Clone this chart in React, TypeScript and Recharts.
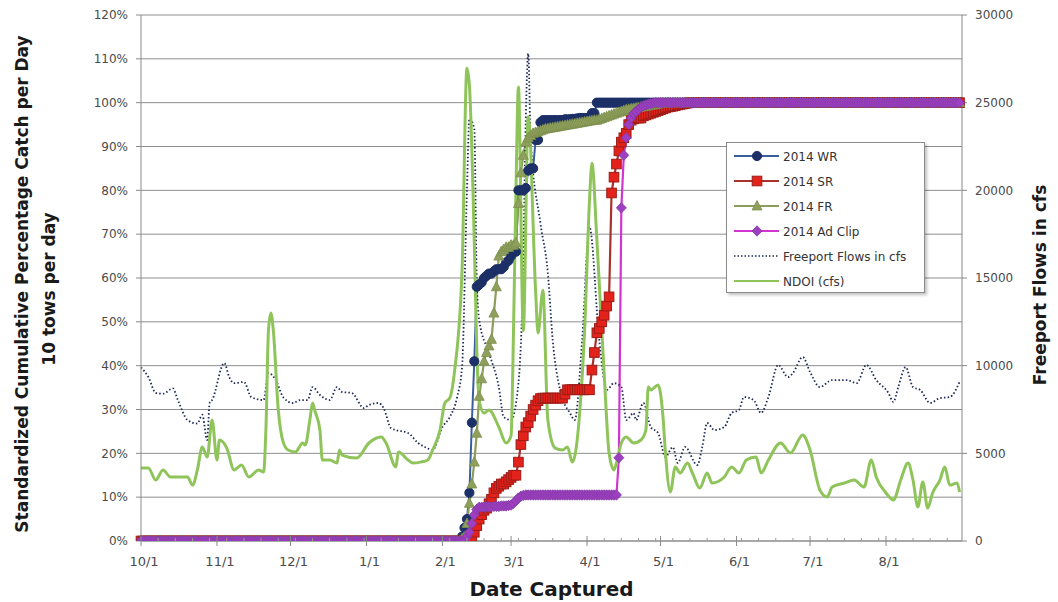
import { LineChart, Line, XAxis, YAxis, CartesianGrid, Legend, Label } from "recharts";

// x = days since 10/1/2013
const lastDay = 334;
const monthTicks = [0, 31, 61, 92, 123, 151, 182, 212, 243, 273, 304];
const monthLabels = ["10/1", "11/1", "12/1", "1/1", "2/1", "3/1", "4/1", "5/1", "6/1", "7/1", "8/1"];
const weekTicks = Array.from({ length: 48 }, (_, i) => i * 7);
const allTicks = Array.from(new Set([...monthTicks, ...weekTicks])).sort((a, b) => a - b);
const pctTicks = [0, 0.1, 0.2, 0.3, 0.4, 0.5, 0.6, 0.7, 0.8, 0.9, 1.0, 1.1, 1.2];
const cfsTicks = [0, 5000, 10000, 15000, 20000, 25000, 30000];

// cumulative % catch: 0 before the ramp start, 100 after the ramp ends
const wrStart = 131;
const wrRamp = [
  1, 3, 5, 11, 27, 41, 58, 58.5, 59, 60, 60.5, 61, 61, 61.5, 62, 62, 62, 62.5, 63.5, 64,
  65, 66, 66, 80, 80, 80, 80.5, 84.5, 85, 85, 91.5, 91.5, 95.5,
  96, 96, 96, 96, 96, 96, 96, 96, 96, 96.2, 96.2, 96.2, 96.3, 96.3, 96.4,
  96.5, 96.5, 96.5, 96.5, 96.5, 97.6, 97.6,
];
const srStart = 134;
const srRamp = [
  0.5, 1, 2, 3.5, 5, 6, 7, 7.5, 8.5, 9.5, 11, 12, 12.5, 13, 13, 13.5, 14, 14.5, 15, 15,
  18, 22, 24, 26, 27, 28.5, 30, 31, 32, 32.5,
  32.6, 32.6, 32.6, 32.6, 32.6, 32.6, 32.6, 32.6, 32.6, 33.5,
  34.5, 34.5, 34.5, 34.5, 34.5, 34.5, 34.5, 34.5, 34.5, 34.5,
  39, 43, 47.5, 48.5, 50, 51.5, 53.6, 55.7, 79.4, 83, 86, 89, 91, 92, 93, 95, 96, 96.3,
  96.5, 96.5, 96.5, 97, 97.2, 97.4, 97.6, 97.8,
  98, 98.2, 98.4, 98.6, 98.8, 99, 99.1, 99.2, 99.3, 99.5, 99.6, 99.7, 99.8, 99.9,
];
const frStart = 131;
const frRamp = [
  0.5, 1, 4, 8.6, 13, 18, 24.6, 33, 37, 41, 43, 44.5, 46, 52, 58, 65, 66, 66.5, 67, 67,
  67.5, 67.5, 68, 77, 84, 88, 91, 92, 92.5, 93, 93.2, 93.4, 93.6, 93.8, 94,
  94.1, 94.2, 94.3, 94.4, 94.5, 94.6, 94.7, 94.8, 94.9, 95, 95.1, 95.2, 95.3,
  95.4, 95.5, 95.6, 95.7, 95.8, 95.9, 96, 96,
  96.2, 96.4, 96.6, 96.8, 97, 97.2, 97.4, 97.6, 97.8, 98, 98.2, 98.4, 98.5,
  98.6, 98.7, 98.8, 98.9, 99, 99.1, 99.2, 99.3, 99.4, 99.5, 99.6, 99.7, 99.8, 99.9, 99.9,
];
const adStart = 133;
const adRamp = [
  1, 2, 4, 6, 7.2, 7.7, 7.7, 7.7, 7.8, 7.8, 7.8, 7.9, 7.9, 7.9, 8, 8, 8, 8.1, 8.2,
  8.6, 9.2, 9.8, 10.2, 10.4,
  10.5, 10.5, 10.5, 10.5, 10.5, 10.5, 10.5, 10.5, 10.5, 10.5,
  10.5, 10.5, 10.5, 10.5, 10.5, 10.5, 10.5, 10.5, 10.5, 10.5,
  10.5, 10.5, 10.5, 10.5, 10.5, 10.5, 10.5, 10.5, 10.5, 10.5,
  10.5, 10.5, 10.5, 10.5, 10.5, 10.5, 10.5, 10.5,
  19, 76, 88, 92, 95, 96.5, 97.5, 98, 98.5, 99, 99.3, 99.5, 99.7, 99.8, 99.9,
];

// Freeport flows (cfs)
const freeportDays = [
  0, 3, 6, 9, 13, 15, 19, 23, 25, 27, 28, 29, 34, 36, 38, 42, 45, 50, 52, 55, 58, 62, 65, 68,
  70, 73, 77, 80, 82, 86, 91, 93, 97, 99, 102, 104, 109, 113, 116, 119, 123, 126, 129, 131,
  133, 134, 136, 137, 138, 142, 146, 148, 151, 154, 156, 157, 158, 159, 163, 166, 168, 171,
  175, 177, 180, 183, 187, 190, 193, 196, 198, 201, 202, 205, 208, 211, 214, 217, 219, 222,
  227, 229, 231, 234, 238, 241, 244, 246, 250, 253, 256, 260, 264, 266, 270, 273, 277, 282,
  288, 292, 296, 300, 305, 307, 309, 312, 315, 318, 322, 326, 330, 334,
];
const freeportCfs = [
  9900, 9350, 8450, 8400, 8700, 8050, 6900, 6700, 7200, 5760, 7870, 8040, 10150, 9350, 9000,
  9070, 8210, 8040, 9580, 9180, 8210, 7870, 8040, 8040, 8780, 8330, 8040, 8780, 8500, 8440,
  7580, 7760, 7870, 7580, 6440, 6330, 6160, 5600, 5350, 5190, 6500, 7070, 8210, 9920,
  20000, 24100, 23500, 14900, 12600, 10720, 8780, 7070, 6900, 9000, 16000, 24000, 27800, 22900,
  18100, 15300, 11450, 8610, 7300, 6900, 11460, 17910, 11460, 8610, 9000, 8780, 6900, 7300,
  6900, 7870, 6500, 6160, 4790, 5360, 4450, 5360, 4330, 5360, 6730, 6330, 6500, 7300, 7470,
  8210, 8040, 7300, 8210, 10040, 9350, 9580, 10490, 9640, 8780, 9180, 9180, 9000, 10040,
  9180, 8440, 7930, 8780, 9920, 8780, 8610, 7870, 8150, 8210, 9070,
];

// NDOI (cfs)
const ndoiDays = [
  0, 3, 6, 9, 12, 16, 19, 21, 23, 25, 27, 29, 31, 32, 35, 38, 41, 44, 48, 50, 51, 52, 53, 54,
  56, 58, 60, 63, 66, 67, 69, 70, 71, 73, 74, 77, 80, 81, 82, 88, 93, 98, 100, 104, 105, 109,
  111, 114, 117, 119, 122, 124, 126, 128, 131, 133, 134, 136, 137, 138, 140, 142, 146, 149,
  151, 152, 153, 154, 156, 158, 161, 162, 164, 166, 169, 172, 174, 176, 179, 181, 183, 184,
  186, 189, 191, 193, 194, 196, 198, 201, 204, 206, 207, 208, 211, 213, 214, 216, 218, 220,
  223, 225, 228, 231, 233, 238, 241, 244, 247, 251, 253, 256, 261, 265, 270, 273, 277, 280,
  282, 287, 291, 295, 298, 300, 304, 307, 310, 313, 315, 317, 319, 321, 323, 326, 328, 330,
  333, 334,
];
const ndoiCfs = [
  4160, 4160, 3480, 4050, 3650, 3650, 3650, 3190, 4050, 5360, 4790, 6900, 4620, 5760, 5300,
  4050, 4330, 3650, 4050, 3935, 6500, 12000, 13000, 12000, 7500, 5650, 5190, 5080, 5590, 5475,
  7000, 7870, 7400, 6330, 4620, 4620, 4450, 5190, 4900, 4730, 5590, 5930, 5590, 4220, 5080,
  4620, 4450, 4500, 4620, 5190, 6330, 7870, 8160, 9750, 15450, 26970, 26000, 17000, 11000,
  8000, 7300, 7470, 6500, 5590, 6000, 12000, 20000, 25900, 12000, 24200, 14300, 11860, 14300,
  6900, 5300, 5190, 5360, 4500, 7300, 12000, 19400, 21550, 17220, 9520, 5020, 4050, 4450,
  5590, 5930, 5590, 5760, 6330, 8780, 8610, 8900, 7070, 5020, 2800, 4220, 3880, 4450, 3880,
  3020, 3880, 3310, 3650, 4220, 3880, 4620, 4790, 3880, 4620, 5590, 5020, 6050, 5190, 2910,
  2510, 3080, 3310, 3480, 3080, 4620, 3650, 2740, 2340, 3480, 4450, 3480, 1940, 3370, 1880,
  2740, 3480, 4220, 3190, 3310, 2800,
];

const cumulative = (start: number, ramp: number[], day: number) => {
  if (day < start) return 0;
  const i = day - start;
  return i < ramp.length ? ramp[i] / 100 : 1;
};

const freeportMap = new Map(freeportDays.map((d, i) => [d, freeportCfs[i]]));
const ndoiMap = new Map(ndoiDays.map((d, i) => [d, ndoiCfs[i]]));

const rows = Array.from({ length: lastDay + 1 }, (_, day) => ({
  day,
  wr: cumulative(wrStart, wrRamp, day),
  sr: cumulative(srStart, srRamp, day),
  fr: cumulative(frStart, frRamp, day),
  ad: cumulative(adStart, adRamp, day),
  freeport: freeportMap.has(day) ? freeportMap.get(day) : null,
  ndoi: ndoiMap.has(day) ? ndoiMap.get(day) : null,
}));

const WR_LINE = "#3A5E9C";
const WR_DOT = "#1C2F66";
const SR_LINE = "#A8322C";
const SR_DOT = "#E3221B";
const FR_LINE = "#8C9E5A";
const FR_DOT = "#8FA05C";
const AD_LINE = "#D035D0";
const AD_DOT = "#9E3EC2";
const FP_LINE = "#1E2A57";
const NDOI_LINE = "#8FC45A";

type Shape = "circle" | "square" | "triangle" | "diamond";

function marker(shape: Shape, cx: number, cy: number, key?: string) {
  if (shape === "circle")
    return <circle key={key} cx={cx} cy={cy} r={4.6} fill={WR_DOT} stroke={WR_DOT} strokeWidth={1} />;
  if (shape === "square")
    return <rect key={key} x={cx - 4.8} y={cy - 4.8} width={9.6} height={9.6} fill={SR_DOT} stroke="#9E1C17" strokeWidth={1} />;
  if (shape === "triangle")
    return <path key={key} d={`M${cx},${cy - 5.5}L${cx + 5},${cy + 4}L${cx - 5},${cy + 4}Z`} fill={FR_DOT} stroke="#7E8F4E" strokeWidth={0.8} />;
  return <path key={key} d={`M${cx},${cy - 5.2}L${cx + 5},${cy}L${cx},${cy + 5.2}L${cx - 5},${cy}Z`} fill={AD_DOT} stroke="#7F3AA0" strokeWidth={0.8} />;
}

const dotFor = (shape: Shape, id: string) => (p: any) => marker(shape, p.cx, p.cy, `${id}-${p.index}`);

const legendItems = [
  { name: "2014 WR", color: WR_LINE, shape: "circle" as Shape, dash: "" },
  { name: "2014 SR", color: SR_LINE, shape: "square" as Shape, dash: "" },
  { name: "2014 FR", color: FR_LINE, shape: "triangle" as Shape, dash: "" },
  { name: "2014 Ad Clip", color: AD_LINE, shape: "diamond" as Shape, dash: "" },
  { name: "Freeport Flows in cfs", color: FP_LINE, shape: null, dash: "1.5 2" },
  { name: "NDOI (cfs)", color: NDOI_LINE, shape: null, dash: "" },
];

const font = "'DejaVu Sans', 'Liberation Sans', sans-serif";

function LegendBox() {
  return (
    <div
      style={{
        width: 197,
        height: 149,
        border: "1px solid #8c8c8c",
        background: "#fff",
        boxShadow: "2px 2px 3px rgba(0,0,0,0.25)",
        fontFamily: font,
        fontSize: 12,
        color: "#333",
      }}
    >
      <svg width={197} height={149}>
        {legendItems.map((it, i) => {
          const y = 13 + i * 25;
          return (
            <g key={it.name}>
              <line x1={7} x2={52} y1={y} y2={y} stroke={it.color} strokeWidth={it.dash ? 1.5 : 2.2} strokeDasharray={it.dash || undefined} />
              {it.shape ? marker(it.shape, 30, y) : null}
              <text x={56} y={y + 4.5} fill="#333" fontSize={12} fontFamily={font}>
                {it.name}
              </text>
            </g>
          );
        })}
      </svg>
    </div>
  );
}

// month ticks: long mark + label; weekly ticks: short mark only
function DateTick(props: any) {
  const { x, y, payload } = props;
  const i = monthTicks.indexOf(payload.value);
  if (i < 0) return <line x1={x} x2={x} y1={y - 3} y2={y} stroke="#9a9a9a" strokeWidth={1} />;
  return (
    <g>
      <line x1={x} x2={x} y1={y - 5} y2={y + 5} stroke="#8a8a8a" strokeWidth={1} />
      <text x={x + 3} y={y + 25} textAnchor="middle" fill="#4a4a4a" fontSize={13} fontFamily={font}>
        {monthLabels[i]}
      </text>
    </g>
  );
}

const LeftTitle = () => (
  <g fontFamily={font} fontWeight="bold" fontSize={17} fill="#1a1a1a" textAnchor="middle">
    <text transform="translate(28,284) rotate(-90)">Standardized  Cumulative Percentage Catch per Day</text>
    <text transform="translate(55,289) rotate(-90)">10 tows per day</text>
  </g>
);

const RightTitle = () => (
  <text transform="translate(1046,285) rotate(-90)" textAnchor="middle" fontFamily={font} fontWeight="bold" fontSize={17} fill="#1a1a1a">
    Freeport Flows in cfs
  </text>
);

export default function App() {
  return (
    <div style={{ position: "absolute", left: 0, top: 0, width: 1058, height: 602, background: "#fff" }}>
      <LineChart width={1058} height={602} data={rows} margin={{ top: 15, right: 0, bottom: 0, left: 0 }}>
        <CartesianGrid yAxisId="pct" vertical={false} stroke="#8e8e8e" strokeWidth={1} />
        <XAxis
          dataKey="day"
          type="number"
          domain={[0, lastDay + 1]}
          ticks={allTicks}
          interval={0}
          height={61}
          stroke="#8a8a8a"
          tickLine={false}
          tickSize={0}
          tickMargin={0}
          tick={DateTick}
        >
          <Label value="Date Captured" position="insideBottom" offset={6} style={{ fontFamily: font, fontWeight: "bold", fontSize: 20, fill: "#1a1a1a" }} />
        </XAxis>
        <YAxis
          yAxisId="pct"
          orientation="left"
          width={141}
          domain={[0, 1.2]}
          ticks={pctTicks}
          tickFormatter={(v: number) => `${Math.round(v * 100)}%`}
          stroke="#8a8a8a"
          tickSize={5}
          tickMargin={8}
          tick={{ fill: "#4a4a4a", fontSize: 12, fontFamily: font }}
          allowDataOverflow
        >
          <Label content={LeftTitle} />
        </YAxis>
        <YAxis
          yAxisId="cfs"
          orientation="right"
          width={96}
          domain={[0, 30000]}
          ticks={cfsTicks}
          stroke="#8a8a8a"
          tickSize={5}
          tickMargin={8}
          tick={{ fill: "#4a4a4a", fontSize: 12, fontFamily: font }}
          allowDataOverflow
        >
          <Label content={RightTitle} />
        </YAxis>
        <Line yAxisId="pct" dataKey="wr" name="2014 WR" type="linear" stroke={WR_LINE} strokeWidth={2} dot={dotFor("circle", "wr")} isAnimationActive={false} />
        <Line yAxisId="pct" dataKey="sr" name="2014 SR" type="linear" stroke={SR_LINE} strokeWidth={2.2} dot={dotFor("square", "sr")} isAnimationActive={false} />
        <Line yAxisId="pct" dataKey="fr" name="2014 FR" type="linear" stroke={FR_LINE} strokeWidth={2.2} dot={dotFor("triangle", "fr")} isAnimationActive={false} />
        <Line yAxisId="pct" dataKey="ad" name="2014 Ad Clip" type="linear" stroke={AD_LINE} strokeWidth={2.2} dot={dotFor("diamond", "ad")} isAnimationActive={false} />
        <Line yAxisId="cfs" dataKey="freeport" name="Freeport Flows in cfs" type="monotone" stroke={FP_LINE} strokeWidth={1.8} strokeDasharray="1.5 2.2" dot={false} connectNulls isAnimationActive={false} />
        <Line yAxisId="cfs" dataKey="ndoi" name="NDOI (cfs)" type="monotone" stroke={NDOI_LINE} strokeWidth={3} dot={false} connectNulls isAnimationActive={false} />
        <Legend
          layout="vertical"
          align="center"
          verticalAlign="middle"
          content={() => <LegendBox />}
          wrapperStyle={{ left: 726, top: 142, width: 199, height: 151 }}
        />
      </LineChart>
    </div>
  );
}
